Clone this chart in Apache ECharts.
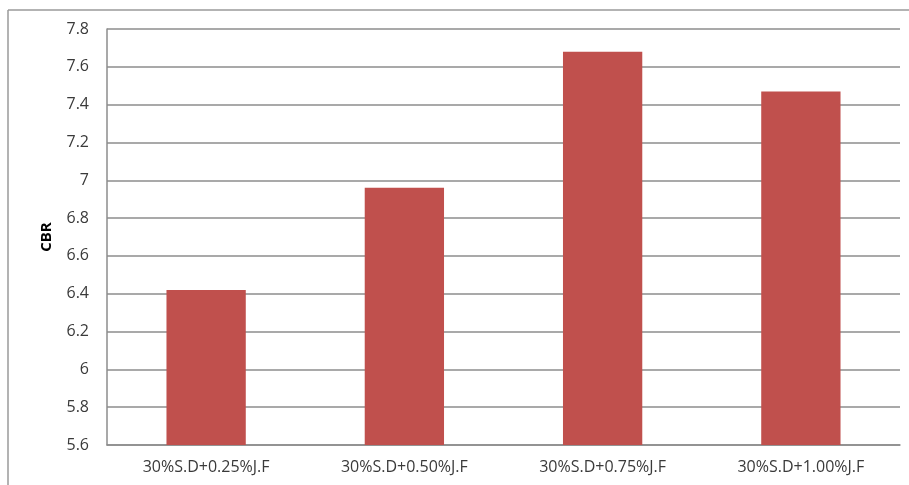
<!DOCTYPE html>
<html>
<head>
<meta charset="utf-8">
<script src="https://cdn.jsdelivr.net/npm/echarts@6/dist/echarts.min.js"></script>
<style>
  html, body { margin: 0; padding: 0; background: #fff; }
  #chart { width: 909px; height: 485px; }
</style>
</head>
<body>
<div id="chart"></div>
<script>
// Mix labels (soil + fibre content) and measured CBR values
const categories = ['30%S.D+0.25%J.F', '30%S.D+0.50%J.F', '30%S.D+0.75%J.F', '30%S.D+1.00%J.F'];
const cbrValues = [6.42, 6.96, 7.68, 7.47];
const yMin = 5.6;
const yMax = 7.8;
const yStep = 0.2;

const chart = echarts.init(document.getElementById('chart'), null, { renderer: 'canvas' });
const labelFont = '"Open Sans", "Liberation Sans", sans-serif';

chart.setOption({
  animation: false,
  backgroundColor: '#fff',
  graphic: [
    // outer chart-area frame (top and left edges)
    { type: 'line', shape: { x1: 8, y1: 10, x2: 909, y2: 10 }, style: { stroke: '#9a9a9a', lineWidth: 1.5 } },
    { type: 'line', shape: { x1: 8, y1: 10, x2: 8, y2: 485 }, style: { stroke: '#9a9a9a', lineWidth: 1.5 } }
  ],
  grid: { left: 107, right: 9, top: 29, bottom: 40, containLabel: false },
  xAxis: {
    type: 'category',
    data: categories,
    axisLine: { lineStyle: { color: '#8c8c8c', width: 1.5 } },
    axisTick: { show: false },
    axisLabel: { color: '#3a3a3a', fontSize: 16, fontFamily: labelFont, margin: 14 }
  },
  yAxis: {
    type: 'value',
    min: yMin,
    max: yMax,
    interval: yStep,
    name: 'CBR',
    nameLocation: 'middle',
    nameGap: 53,
    nameTextStyle: { color: '#000', fontSize: 15, fontWeight: 'bold', fontFamily: labelFont },
    axisLine: { show: true, lineStyle: { color: '#8c8c8c', width: 1.5 } },
    axisTick: { show: false },
    axisLabel: {
      color: '#3a3a3a', fontSize: 16, fontFamily: labelFont, margin: 18,
      formatter: v => String(parseFloat(v.toFixed(1)))
    },
    splitLine: { lineStyle: { color: '#8c8c8c', width: 1.5 } }
  },
  series: [{
    type: 'bar',
    data: cbrValues,
    barWidth: '40%',
    itemStyle: { color: '#C0504D' }
  }]
});
</script>
</body>
</html>
